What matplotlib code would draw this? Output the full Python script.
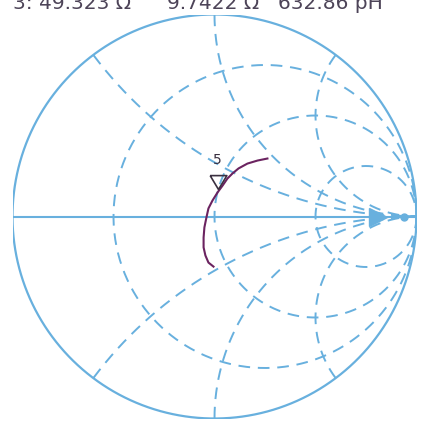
import matplotlib
matplotlib.use("Agg")
import matplotlib.pyplot as plt
import numpy as np

# readout at the top (partly cut off in the original)
readout = ["3: 49.323 Ω", "9.7422 Ω", "632.86 pH"]
readout_x = [13, 167, 278]  # left edge of each field, px

# grid values of the smith chart
r_circles = [1/3, 1, 3]
x_arcs = [0.5, 1, 2, -0.5, -1, -2]

# trace, reflection coefficient (re, im)
trace_re = [0.262, 0.213, 0.163, 0.119, 0.089, 0.064, 0.040, 0.015, -0.010,
            -0.030, -0.040, -0.050, -0.054, -0.054, -0.045, -0.030, -0.005]
trace_im = [0.287, 0.277, 0.262, 0.238, 0.213, 0.188, 0.153, 0.119, 0.079,
            0.040, -0.005, -0.054, -0.104, -0.153, -0.193, -0.228, -0.248]

# marker 5
marker_re, marker_im = 0.015, 0.134
marker_label = "5"

# reference arrow on the real axis
ref_re = 0.81

grid_col = "#68b0de"
trace_col = "#6b2360"
text_col = "#4d4458"

W, H = 422, 428
fig = plt.figure(figsize=(W / 100, H / 100), dpi=100)
# chart centre and radius in pixels
cx, cy, R = 214.5, 216.5, 202
ax = fig.add_axes([(cx - R) / W, 1 - (cy + R) / H, 2 * R / W, 2 * R / H])
ax.set_xlim(-1, 1)
ax.set_ylim(-1, 1)
ax.axis("off")

def gamma(z):
    return (z - 1) / (z + 1)

# resistance circles
t = np.tan(np.linspace(-np.pi / 2 + 1e-3, np.pi / 2 - 1e-3, 600))
for r in r_circles:
    g = gamma(r + 1j * t * 3)
    ax.plot(g.real, g.imag, color=grid_col, lw=1.4, ls=(0, (6, 4)))

# reactance arcs
s = np.geomspace(1e-4, 300, 600)
for x in x_arcs:
    g = gamma(s + 1j * x)
    ax.plot(g.real, g.imag, color=grid_col, lw=1.4, ls=(0, (6, 4)))

# outer circle and real axis
th = np.linspace(0, 2 * np.pi, 400)
ax.plot(np.cos(th), np.sin(th), color=grid_col, lw=1.6)
ax.plot([-1, 1], [0, 0], color=grid_col, lw=1.5)

# reference arrow
ax.plot([ref_re], [0], marker=">", ms=13, color=grid_col)
ax.plot([0.94], [0], marker="o", ms=5, color=grid_col)

# trace
ax.plot(trace_re, trace_im, color=trace_col, lw=1.5)

# marker triangle with its tip on the trace
tri = [(-0.6, 1), (0.6, 1), (0, 0), (-0.6, 1)]
ax.plot([marker_re], [marker_im], marker=tri, ms=20, mfc="none",
        mec="#3a3040", mew=1.2)
ax.annotate(marker_label, (marker_re, marker_im), xytext=(0, 16),
            textcoords="offset points", ha="center", va="bottom",
            fontsize=10, color="#3a3040")

for txt, px in zip(readout, readout_x):
    fig.text(px / W, 1 - 9 / H, txt, fontsize=14.5, color=text_col,
             va="baseline", ha="left")

fig.savefig("out.png", dpi=100)
